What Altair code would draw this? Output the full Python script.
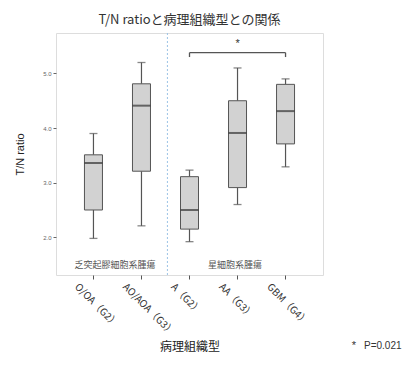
import altair as alt
import pandas as pd

categories = ["O/OA（G2）", "AO/AOA（G3）", "A（G2）", "AA（G3）", "GBM（G4）"]
mins = [1.98, 2.21, 1.92, 2.60, 3.29]
q1s = [2.50, 3.21, 2.15, 2.91, 3.71]
medians = [3.36, 4.41, 2.50, 3.91, 4.31]
q3s = [3.51, 4.81, 3.11, 4.50, 4.80]
maxs = [3.90, 5.20, 3.23, 5.10, 4.90]

group_labels = ["乏突起膠細胞系腫瘍", "星細胞系腫瘍"]
group_anchor = ["O/OA（G2）", "AA（G3）"]

bracket_from = "A（G2）"
bracket_to = "GBM（G4）"
bracket_mid = "AA（G3）"
bracket_y = 5.38
bracket_tick_y = 5.30
star_y = 5.53
group_y = 1.49
divider_cat = "A（G2）"

y_ticks = [2.0, 3.0, 4.0, 5.0]
y_domain = [1.31, 5.74]

FONT = "Noto Sans CJK JP"

df = pd.DataFrame({"cat": categories, "min": mins, "q1": q1s, "med": medians,
                   "q3": q3s, "max": maxs})

xscale = alt.Scale(type="band", domain=categories, paddingInner=0, paddingOuter=0.28)
xaxis = alt.Axis(title="病理組織型", labelAngle=45, labelAlign="left",
                 labelBaseline="middle", labelOffset=-17, labelPadding=6,
                 labelFontSize=10, labelColor="#333", labelFont=FONT,
                 tickSize=4, tickColor="#555", domain=False,
                 titleFont=FONT, titleFontSize=12, titleFontWeight="normal",
                 titleColor="#222", titlePadding=5)


def X(field, **kw):
    return alt.X(field, type="nominal", scale=xscale, axis=xaxis, **kw)


yscale = alt.Scale(domain=y_domain, nice=False, zero=False)
yaxis = alt.Axis(title="T/N ratio", values=y_ticks, format=".1f", labelFontSize=6,
                 labelColor="#666", tickSize=3, tickColor="#666", domain=False,
                 grid=False, titleFont="Liberation Sans", titleFontSize=11,
                 titleFontWeight="normal", titleColor="#222", titlePadding=17)


def Y(field):
    return alt.Y(field, type="quantitative", scale=yscale, axis=yaxis)


base = alt.Chart(df)

whisk_lo = base.mark_rule(color="#555", strokeWidth=1.2).encode(
    x=X("cat"), y=Y("min"), y2="q1:Q")
whisk_hi = base.mark_rule(color="#555", strokeWidth=1.2).encode(
    x=X("cat"), y=Y("q3"), y2="max:Q")
cap_lo = base.mark_tick(color="#555", size=8, thickness=1.3).encode(
    x=X("cat"), y=Y("min"))
cap_hi = base.mark_tick(color="#555", size=8, thickness=1.3).encode(
    x=X("cat"), y=Y("max"))
boxes = base.mark_bar(size=18, color="#d2d2d2", stroke="#555", strokeWidth=1).encode(
    x=X("cat"), y=Y("q1"), y2="q3:Q")
med = base.mark_tick(color="#333", size=18, thickness=2).encode(
    x=X("cat"), y=Y("med"))

div_df = pd.DataFrame({"cat": [divider_cat]})
divider = alt.Chart(div_df).mark_rule(color="#9cc3e6", strokeDash=[2, 2], strokeWidth=1).encode(
    x=X("cat", bandPosition=0.04),
    y=alt.value(0), y2=alt.value(242))

br_df = pd.DataFrame({"a": [bracket_from], "b": [bracket_to], "y": [bracket_y]})
bracket = alt.Chart(br_df).mark_rule(color="#555", strokeWidth=1.3).encode(
    x=X("a"), x2="b:N", y=Y("y"))
bt_df = pd.DataFrame({"cat": [bracket_from, bracket_to], "y": [bracket_tick_y] * 2,
                      "y2": [bracket_y] * 2})
bticks = alt.Chart(bt_df).mark_rule(color="#555", strokeWidth=1.3).encode(
    x=X("cat"), y=Y("y"), y2="y2:Q")
star_df = pd.DataFrame({"cat": [bracket_mid], "y": [star_y], "t": ["*"]})
star = alt.Chart(star_df).mark_text(fontSize=11, color="#333", font="Liberation Sans").encode(
    x=X("cat"), y=Y("y"), text="t:N")

g_df = pd.DataFrame({"cat": group_anchor, "t": group_labels, "y": [group_y] * 2})
glab1 = alt.Chart(g_df.iloc[[0]]).mark_text(fontSize=9, color="#555", font=FONT).encode(
    x=X("cat", bandPosition=0.95), y=Y("y"), text="t:N")
glab2 = alt.Chart(g_df.iloc[[1]]).mark_text(fontSize=9, color="#555", font=FONT).encode(
    x=X("cat", bandPosition=0.45), y=Y("y"), text="t:N")

pnote_star = alt.Chart(pd.DataFrame({"t": ["*"]})).mark_text(
    fontSize=11, color="#333", align="center", font="Liberation Sans").encode(
    x=alt.value(298), y=alt.value(313), text="t:N")
pnote = alt.Chart(pd.DataFrame({"t": ["P=0.021"]})).mark_text(
    fontSize=10, color="#333", align="left", font="Liberation Sans").encode(
    x=alt.value(308), y=alt.value(313), text="t:N")

chart = alt.layer(whisk_lo, whisk_hi, cap_lo, cap_hi, boxes, med, divider, bracket,
                  bticks, star, glab1, glab2, pnote_star, pnote).properties(
    width=267, height=242,
    title=alt.TitleParams("T/N ratioと病理組織型との関係", font=FONT, fontSize=13,
                          fontWeight="normal", color="#333", anchor="middle", offset=6),
    autosize=alt.AutoSizeParams(type="none"),
    padding={"left": 48, "top": 25, "right": 83, "bottom": 83},
).configure_view(stroke="#777", strokeWidth=1.5).configure(background="white")

chart.save("out.html", embed_options={"renderer": "svg", "actions": False})
